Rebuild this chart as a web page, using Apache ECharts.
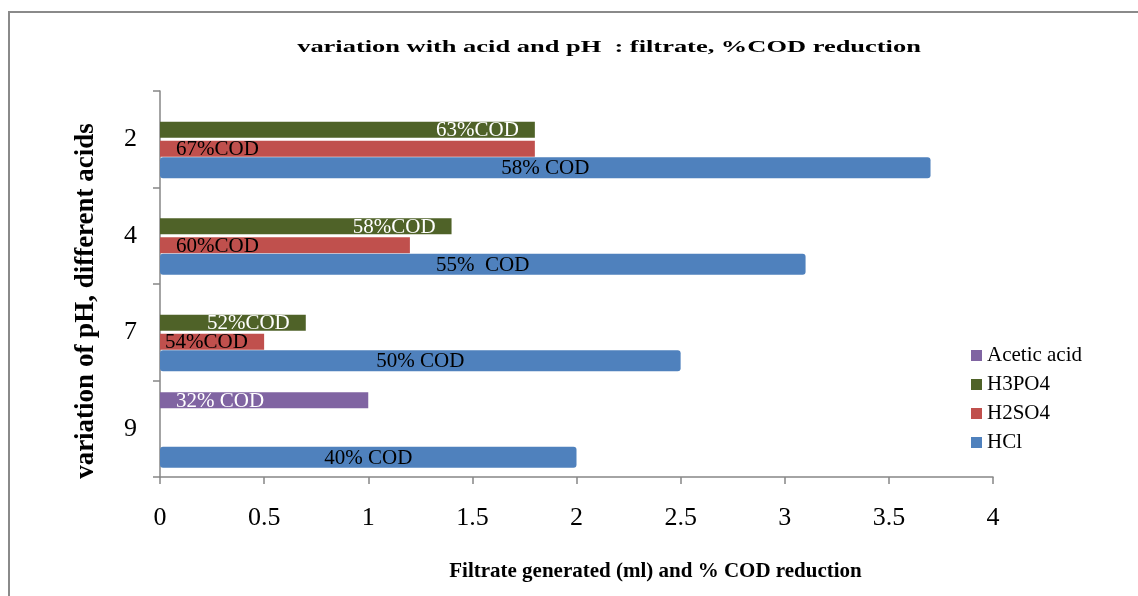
<!DOCTYPE html>
<html>
<head>
<meta charset="utf-8">
<script src="https://cdn.jsdelivr.net/npm/echarts@6/dist/echarts.min.js"></script>
<style>html,body{margin:0;padding:0;background:#fff}#c{width:1138px;height:596px}</style>
</head>
<body>
<div id="c"></div>
<script>
const categories = ['2', '4', '7', '9'];
const hclValues = [3.7, 3.1, 2.5, 2.0];
const h2so4Values = [1.8, 1.2, 0.5, null];
const h3po4Values = [1.8, 1.4, 0.7, null];
const aceticValues = [null, null, null, 1.0];
const hclLabels = ['58% COD', '55%  COD', '50% COD', '40% COD'];
const h2so4Labels = ['67%COD', '60%COD', '54%COD', ''];
const h3po4Labels = ['63%COD', '58%COD', '52%COD', ''];
const aceticLabels = ['', '', '', '32% COD'];
const xTicks = ['0', '0.5', '1', '1.5', '2', '2.5', '3', '3.5', '4'];
const titleText = 'variation with acid and pH  : filtrate, %COD reduction';

const serif = '"Liberation Serif", "Times New Roman", serif';

function mk(values, extra) {
  return values.map((v, i) => {
    const item = { value: v };
    if (extra && extra[i]) item.label = extra[i];
    return item;
  });
}

const chart = echarts.init(document.getElementById('c'));
const labelBase = { show: true, fontFamily: serif, fontSize: 21, offset: [0, 1] };
const axisGray = '#868686';
// HCl bars sit in the 4th (bottom) slot of each category: same grid, shifted by that slot's offset
const slotShift = 28.5;

chart.setOption({
  animation: false,
  backgroundColor: '#fff',
  graphic: [{
    type: 'rect', shape: { x: 9, y: 12, width: 1200, height: 700 },
    style: { fill: 'none', stroke: '#8a8a8a', lineWidth: 2 }, silent: true, z: -10
  }, {
    type: 'text', x: 609, y: 48, scaleX: 1.555, silent: true,
    style: { text: titleText, fill: '#000', font: 'bold 17px "Liberation Serif", serif',
      align: 'center', verticalAlign: 'middle' }
  }],
  legend: {
    orient: 'vertical', left: 966, top: 340, itemWidth: 11, itemHeight: 11, itemGap: 8,
    data: ['Acetic acid', 'H3PO4', 'H2SO4', 'HCl'],
    textStyle: { fontFamily: serif, fontSize: 21, color: '#000' },
    icon: 'rect'
  },
  grid: [
    { left: 160, right: 145, top: 91, bottom: 119, containLabel: false },
    { left: 160, right: 145, top: 91 + slotShift, bottom: 119 - slotShift, containLabel: false }
  ],
  xAxis: [{
    type: 'value', min: 0, max: 4, interval: 0.5, gridIndex: 0,
    axisLine: { show: true, lineStyle: { color: axisGray, width: 1.5 } },
    axisTick: { show: true, length: 7, lineStyle: { color: axisGray, width: 1.5 } },
    splitLine: { show: false },
    axisLabel: { fontFamily: serif, fontSize: 26, color: '#000', margin: 28,
      formatter: v => xTicks[Math.round(v * 2)] },
    name: 'Filtrate generated (ml) and % COD reduction',
    nameLocation: 'middle', nameGap: 84,
    nameTextStyle: { fontFamily: serif, fontWeight: 'bold', fontSize: 21, color: '#000', padding: [0, 0, 0, 158] }
  }, {
    type: 'value', min: 0, max: 4, interval: 0.5, gridIndex: 1, show: false
  }],
  yAxis: [{
    type: 'category', data: categories, inverse: true, gridIndex: 0,
    axisLine: { show: true, lineStyle: { color: axisGray, width: 1.5 } },
    axisTick: { show: true, length: 7, lineStyle: { color: axisGray, width: 1.5 } },
    axisLabel: { fontFamily: serif, fontSize: 26, color: '#000', margin: 23 },
    name: 'variation of pH, different acids',
    nameLocation: 'middle', nameGap: 60, nameRotate: 90,
    nameTextStyle: { fontFamily: serif, fontWeight: 'bold', fontSize: 27, color: '#000', padding: [0, 34, 0, 0] }
  }, {
    type: 'category', data: categories, inverse: true, gridIndex: 1, show: false
  }],
  series: [
    {
      name: 'Acetic acid', type: 'bar', barWidth: 16, barGap: '19%',
      xAxisIndex: 0, yAxisIndex: 0,
      itemStyle: { color: '#8064A2' },
      data: mk(aceticValues),
      label: Object.assign({}, labelBase, { position: 'insideLeft', distance: 16, color: '#fff',
        formatter: p => aceticLabels[p.dataIndex] })
    },
    {
      name: 'H3PO4', type: 'bar', barWidth: 16, barGap: '19%',
      xAxisIndex: 0, yAxisIndex: 0,
      itemStyle: { color: '#4F6228' },
      data: mk(h3po4Values),
      label: Object.assign({}, labelBase, { position: 'insideRight', distance: 16, color: '#fff',
        formatter: p => h3po4Labels[p.dataIndex] })
    },
    {
      name: 'H2SO4', type: 'bar', barWidth: 16, barGap: '19%',
      xAxisIndex: 0, yAxisIndex: 0,
      itemStyle: { color: '#C0504D' },
      data: mk(h2so4Values, [null, null, { distance: 5 }, null]),
      label: Object.assign({}, labelBase, { position: 'insideLeft', distance: 16, color: '#000',
        formatter: p => h2so4Labels[p.dataIndex] })
    },
    {
      name: 'slot', type: 'bar', barWidth: 16, barGap: '19%',
      xAxisIndex: 0, yAxisIndex: 0, silent: true,
      data: [], itemStyle: { color: 'transparent' }
    },
    {
      name: 'HCl', type: 'bar', barWidth: 21,
      xAxisIndex: 1, yAxisIndex: 1,
      itemStyle: { color: '#4F81BD', borderRadius: 3 },
      data: mk(hclValues),
      label: Object.assign({}, labelBase, { position: 'inside', color: '#000',
        formatter: p => hclLabels[p.dataIndex] })
    }
  ]
});
</script>
</body>
</html>
